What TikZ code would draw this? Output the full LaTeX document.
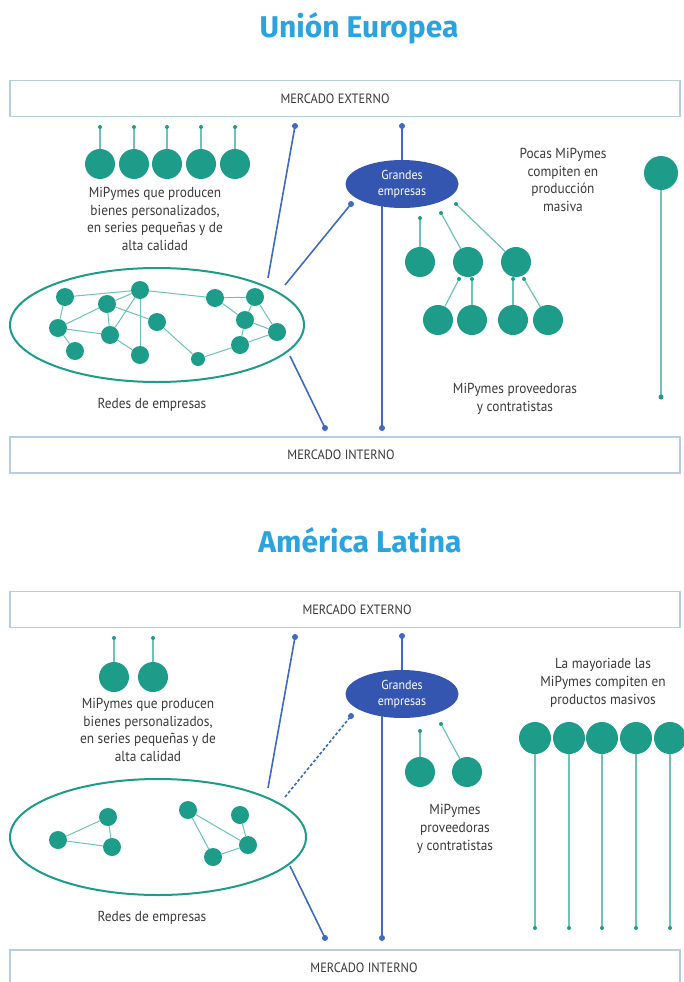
\documentclass[tikz,border=0pt]{standalone}
\usepackage{fontspec}
\setmainfont{PT Sans}
\newfontfamily\condfont[FakeStretch=0.92]{PT Sans}
\newfontfamily\titlefont{Fira Sans}
\usetikzlibrary{arrows.meta,shapes.geometric,backgrounds}
\definecolor{teal1}{HTML}{1E9C8A}
\definecolor{teal2}{HTML}{6CC3B6}
\definecolor{blue1}{HTML}{3D6BBF}
\definecolor{blue2}{HTML}{3556B0}
\definecolor{boxc}{HTML}{B7CDE3}
\definecolor{titlec}{HTML}{2BA3DF}
\definecolor{txt}{HTML}{3A3A3A}
\tikzset{
  firm/.style={circle,fill=teal1,inner sep=0pt,minimum size=30pt},
  smallfirm/.style={circle,fill=teal1,inner sep=0pt,minimum size=18pt},
  tinyfirm/.style={circle,fill=teal1,inner sep=0pt,minimum size=14pt},
  market/.style={draw=boxc,line width=1.6pt,fill=white,minimum width=670pt,minimum height=36pt,inner sep=0pt},
  mtext/.style={inner sep=0pt,font=\condfont\fontsize{13.5}{14}\selectfont,text=txt},
  big/.style={ellipse,fill=blue2,minimum width=113pt,minimum height=48pt,inner sep=0pt,text=white,align=center,font=\condfont\fontsize{13}{16}\selectfont},
  net/.style={ellipse,draw=teal1,line width=2pt,inner sep=0pt},
  label/.style={align=center,text=txt,font=\condfont\fontsize{14.5}{17.7}\selectfont},
  title/.style={text=titlec,font=\titlefont\bfseries\fontsize{30}{32}\selectfont},
  tlink/.style={draw=teal2,line width=1.2pt},
  nlink/.style={draw=teal2,line width=1pt},
  blink/.style={draw=blue1,line width=1.6pt},
  tdot/.style={circle,fill=teal1,inner sep=0pt,minimum size=4pt},
  bdot/.style={circle,fill=blue1,inner sep=0pt,minimum size=6pt},
}
\begin{document}
\begin{tikzpicture}[x=1pt,y=-1pt]
\useasboundingbox (0,0) rectangle (683,982);
% ================= UNION EUROPEA =================
\node[title] (t1) at (359,28) {Unión Europea};
\node[market] (ext1) at (345,98.5) {};
\node[mtext] (ext1t) at (335,98.5) {MERCADO EXTERNO};
\node[market] (int1) at (345,455) {};
\node[mtext] (int1t) at (341,455) {MERCADO INTERNO};

\foreach \i/\x in {1/100,2/134,3/167,4/201,5/235}{
  \node[firm] (c\i) at (\x,164) {};
  \coordinate (ce\i) at (\x,127);
  \draw[tlink] (c\i) -- (ce\i);
  \node[tdot] at (ce\i) {};
}
\node[label] (l1) at (155,219) {MiPymes que producen\\bienes personalizados,\\en series pequeñas y de\\alta calidad};

\node[net,minimum width=294pt,minimum height=114pt] (ne1) at (157,325) {};
\node[smallfirm] (n1) at (65,297) {};
\node[smallfirm] (n2) at (107,304) {};
\node[smallfirm] (n3) at (140,290) {};
\node[smallfirm] (n4) at (58,328) {};
\node[smallfirm] (n5) at (110,335) {};
\node[smallfirm] (n6) at (157,322) {};
\node[smallfirm] (n7) at (75,351) {};
\node[smallfirm] (n8) at (140,355) {};
\node[tinyfirm] (n9) at (198,359) {};
\node[smallfirm] (n10) at (215,298) {};
\node[smallfirm] (n11) at (255,297) {};
\node[smallfirm] (n12) at (245,320) {};
\node[smallfirm] (n13) at (277,332) {};
\node[smallfirm] (n14) at (240,345) {};
\begin{scope}[on background layer]
\foreach \a/\b in {n1/n3,n1/n4,n2/n3,n2/n4,n2/n5,n2/n6,n3/n8,n3/n5,n4/n5,n4/n7,n5/n8,n6/n9,n9/n14,n3/n10,n10/n12,n11/n12,n11/n13,n12/n13,n13/n14,n12/n14,n10/n11}{
  \draw[nlink] (\a) -- (\b);
}
\end{scope}
\node[label] (r1) at (152,405) {Redes de empresas};

\node[big] (g1) at (402,184) {Grandes\\empresas};
\coordinate (ge1a) at (402,126);
\draw[blink] (g1.north) -- (ge1a);
\node[bdot] at (ge1a) {};
\coordinate (ne1a) at (268,278);
\coordinate (ne1ae) at (295,126);
\draw[blink] (ne1a) -- (ne1ae);
\node[bdot] at (ne1ae) {};
\coordinate (ne1b) at (285,285);
\coordinate (g1w) at (351,204);
\draw[blink] (ne1b) -- (g1w);
\node[bdot] at (g1w) {};
\coordinate (ne1c) at (290,356);
\coordinate (ne1ce) at (325,428);
\draw[blink] (ne1c) -- (ne1ce);
\node[bdot] at (ne1ce) {};
\coordinate (g1s) at (382,206);
\coordinate (g1se) at (382,428);
\draw[blink] (g1s) -- (g1se);
\node[bdot] at (g1se) {};

\node[firm] (s1) at (420,262) {};
\node[firm] (s2) at (468,262) {};
\node[firm] (s3) at (516,262) {};
\node[firm] (s4) at (438,320) {};
\node[firm] (s5) at (472,320) {};
\node[firm] (s6) at (513,320) {};
\node[firm] (s7) at (548,320) {};
\coordinate (se1) at (420,218);
\coordinate (se2) at (441,213);
\coordinate (se3) at (456,204);
\draw[tlink] (s1) -- (se1); \node[tdot] at (se1) {};
\draw[tlink] (s2) -- (se2); \node[tdot] at (se2) {};
\draw[tlink] (s3) -- (se3); \node[tdot] at (se3) {};
\coordinate (se4) at (459,279);
\coordinate (se5) at (472,279);
\coordinate (se6) at (513,279);
\coordinate (se7) at (524,279);
\draw[tlink] (s4) -- (se4); \node[tdot] at (se4) {};
\draw[tlink] (s5) -- (se5); \node[tdot] at (se5) {};
\draw[tlink] (s6) -- (se6); \node[tdot] at (se6) {};
\draw[tlink] (s7) -- (se7); \node[tdot] at (se7) {};
\node[label] (p1) at (515,399) {MiPymes proveedoras\\y contratistas};

\node[label] (m1) at (563,180) {Pocas MiPymes\\compiten en\\producción\\masiva};
\node[firm,minimum size=34pt] (mf1) at (661,173) {};
\coordinate (mfe1) at (661,397);
\draw[tlink] (mf1) -- (mfe1);
\node[tdot,minimum size=5pt] at (mfe1) {};

% ================= AMERICA LATINA =================
\node[title] (t2) at (360,540) {América Latina};
\node[market] (ext2) at (345,609.5) {};
\node[mtext] (ext2t) at (357,609.5) {MERCADO EXTERNO};
\node[market,minimum height=40pt] (int2) at (345,970) {};
\node[mtext] (int2t) at (364,968) {MERCADO INTERNO};

\foreach \i/\x in {1/114,2/153}{
  \node[firm] (d\i) at (\x,677) {};
  \coordinate (de\i) at (\x,638);
  \draw[tlink] (d\i) -- (de\i);
  \node[tdot] at (de\i) {};
}
\node[label] (l2) at (148,730) {MiPymes que producen\\bienes personalizados,\\en series pequeñas y de\\alta calidad};

\node[net,minimum width=296pt,minimum height=116pt] (ne2) at (158,837) {};
\node[smallfirm] (k1) at (58,840) {};
\node[smallfirm] (k2) at (108,817) {};
\node[smallfirm] (k3) at (112,847) {};
\node[smallfirm] (k4) at (188,810) {};
\node[smallfirm] (k5) at (240,815) {};
\node[smallfirm] (k6) at (248,845) {};
\node[smallfirm] (k7) at (213,857) {};
\begin{scope}[on background layer]
\foreach \a/\b in {k1/k2,k1/k3,k2/k3,k4/k6,k4/k7,k5/k6,k7/k6}{
  \draw[nlink] (\a) -- (\b);
}
\end{scope}
\node[label] (r2) at (152,918) {Redes de empresas};

\node[big] (g2) at (402,694) {Grandes\\empresas};
\coordinate (ge2a) at (402,636);
\draw[blink] (g2.north) -- (ge2a);
\node[bdot] at (ge2a) {};
\coordinate (ne2a) at (268,788);
\coordinate (ne2ae) at (295,637);
\draw[blink] (ne2a) -- (ne2ae);
\node[bdot] at (ne2ae) {};
\coordinate (ne2b) at (285,797);
\coordinate (g2w) at (351,716);
\draw[blink,dash pattern=on 3pt off 2pt] (ne2b) -- (g2w);
\node[bdot] at (g2w) {};
\coordinate (ne2c) at (290,866);
\coordinate (ne2ce) at (325,938);
\draw[blink] (ne2c) -- (ne2ce);
\node[bdot] at (ne2ce) {};
\coordinate (g2s) at (382,716);
\coordinate (g2se) at (382,938);
\draw[blink] (g2s) -- (g2se);
\node[bdot] at (g2se) {};

\node[firm] (u1) at (420,772) {};
\node[firm] (u2) at (467,772) {};
\coordinate (ue1) at (420,731);
\coordinate (ue2) at (441,724);
\draw[tlink] (u1) -- (ue1); \node[tdot] at (ue1) {};
\draw[tlink] (u2) -- (ue2); \node[tdot] at (ue2) {};
\node[label] (p2) at (455,829) {MiPymes\\proveedoras\\y contratistas};

\node[label] (m2) at (603,683) {La mayoriade las\\MiPymes compiten en\\productos masivos};
\foreach \i/\x in {1/535,2/569,3/602,4/636,5/670}{
  \node[firm,minimum size=32pt] (v\i) at (\x,738) {};
  \coordinate (ve\i) at (\x,928);
  \draw[tlink] (v\i) -- (ve\i);
  \node[tdot] at (ve\i) {};
}
\end{tikzpicture}
\end{document}
